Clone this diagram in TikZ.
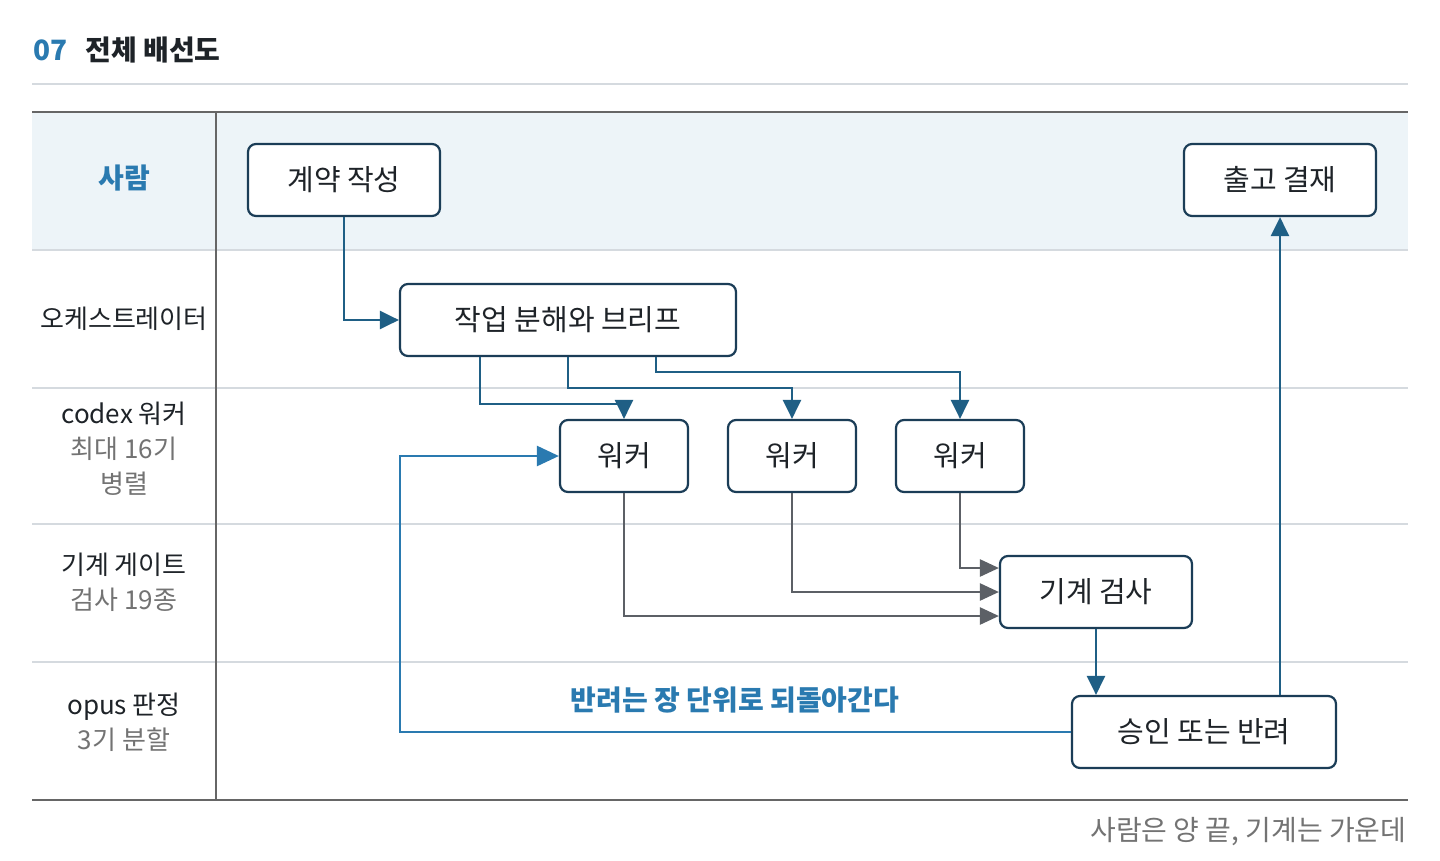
\documentclass[tikz,border=0pt]{standalone}
\usepackage{fontspec}
\setmainfont{Noto Sans CJK KR}
\usetikzlibrary{arrows.meta}
\definecolor{navy}{HTML}{1B3D57}
\definecolor{dblue}{HTML}{1F5F85}
\definecolor{lblue}{HTML}{2A7AB0}
\definecolor{lanefill}{HTML}{EDF4F8}
\definecolor{sep}{HTML}{D5DADF}
\definecolor{gline}{HTML}{5C6066}
\definecolor{txt}{HTML}{1E2328}
\begin{document}
\begin{tikzpicture}[x=1pt,y=-1pt,
 box/.style={draw=navy,line width=2.2pt,rounded corners=8pt,fill=white,text=txt,font=\fontsize{29}{34}\selectfont},
 lane/.style={text=txt,font=\fontsize{26}{35}\selectfont,align=center},
 arr/.style={line width=2.5pt,draw=dblue,-{Triangle[length=19pt,width=18pt]}},
 garr/.style={line width=2.5pt,draw=gline,-{Triangle[length=19pt,width=17pt]}},
 barr/.style={line width=2.5pt,draw=lblue,-{Triangle[length=22pt,width=20pt]}}]
\useasboundingbox (0,0) rectangle (1440,860);
\fill[white] (0,0) rectangle (1440,860);
\node[anchor=west,text=lblue,font=\fontsize{28}{32}\selectfont\bfseries] (num) at (30,50) {07};
\node[anchor=west,text=txt,font=\fontsize{28}{32}\selectfont\bfseries] (ttl) at (82,50) {전체 배선도};
\draw[sep,line width=1.5pt] (32,84) -- (1408,84);
\fill[lanefill] (32,112) rectangle (1408,250);
\draw[gray!80!black,line width=2pt] (32,112) -- (1408,112);
\foreach \y in {250,388,524,662} \draw[sep,line width=1.5pt] (32,\y) -- (1408,\y);
\draw[gray!80!black,line width=2pt] (32,800) -- (1408,800);
\draw[gray!80!black,line width=2pt] (216,112) -- (216,800);
\node[lane,text=lblue,font=\fontsize{28}{32}\selectfont\bfseries] (l1) at (124,178) {사람};
\node[lane] (l2) at (124,319) {오케스트레이터};
\node[lane] (l3) at (124,449) {codex 워커\\{\color{gray!90!black}최대 16기}\\{\color{gray!90!black}병렬}};
\node[lane] (l4) at (124,582) {기계 게이트\\{\color{gray!90!black}검사 19종}};
\node[lane] (l5) at (124,722) {opus 판정\\{\color{gray!90!black}3기 분할}};
\node[box,minimum width=192pt,minimum height=72pt] (a) at (344,180) {계약 작성};
\node[box,minimum width=192pt,minimum height=72pt] (z) at (1280,180) {출고 결재};
\node[box,minimum width=336pt,minimum height=72pt] (b) at (568,320) {작업 분해와 브리프};
\node[box,minimum width=128pt,minimum height=72pt] (w1) at (624,456) {워커};
\node[box,minimum width=128pt,minimum height=72pt] (w2) at (792,456) {워커};
\node[box,minimum width=128pt,minimum height=72pt] (w3) at (960,456) {워커};
\node[box,minimum width=192pt,minimum height=72pt] (m) at (1096,592) {기계 검사};
\node[box,minimum width=264pt,minimum height=72pt] (j) at (1204,732) {승인 또는 반려};
\draw[arr] (a.south) |- (b.west);
\draw[arr] (b.south -| 480,0) |- (624,404) -- (w1.north);
\draw[arr] (b.south) |- (792,388) -- (w2.north);
\draw[arr] (b.south -| 656,0) |- (960,372) -- (w3.north);
\draw[garr] (w1.south) |- (m.west |- 0,616);
\draw[garr] (w2.south) |- (m.west |- 0,592);
\draw[garr] (w3.south) |- (m.west |- 0,568);
\draw[arr] (m.south) -- (j.north -| m.south);
\draw[arr] (j.north -| z.south) -- (z.south);
\draw[barr] (j.west) -| (400,456) -- (w1.west);
\node[text=lblue,font=\fontsize{28}{32}\selectfont\bfseries] (fb) at (735,700) {반려는 장 단위로 되돌아간다};
\node[anchor=east,text=gray!90!black,font=\fontsize{28}{32}\selectfont] (cap) at (1410,832) {사람은 양 끝, 기계는 가운데};
\end{tikzpicture}
\end{document}
